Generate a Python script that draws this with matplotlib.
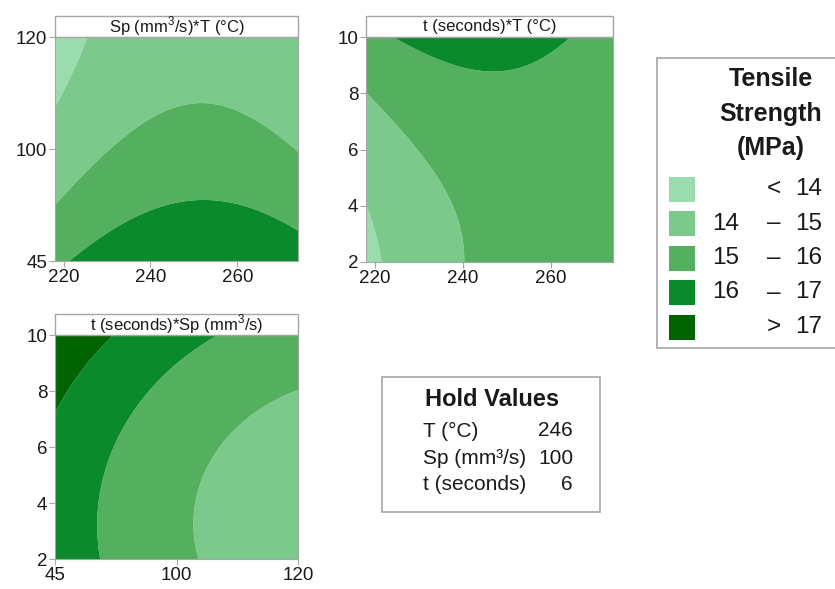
import numpy as np
import matplotlib.pyplot as plt
from matplotlib.patches import Rectangle

plt.rcParams['font.family'] = ['Liberation Sans', 'DejaVu Sans']
plt.rcParams['mathtext.fontset'] = 'custom'
plt.rcParams['mathtext.rm'] = 'Liberation Sans'

# contour classes
levels = [14, 15, 16, 17]
level_colors = ['#9bdcae', '#7cc98c', '#54b05f', '#0a8a2a', '#006400']
legend_labels = [('', '<', '14'), ('14', '–', '15'), ('15', '–', '16'),
                 ('16', '–', '17'), ('', '>', '17')]

# factor ranges
T_range = (218, 274)
Sp_range = (80, 120)
t_range = (2, 10)

# fitted quadratic surfaces in coded units, terms: const, x, y, x^2, y^2, x*y
# (third factor held at its centre value)
coef_Sp_T = [15.379, 0.304, -1.134, -0.711, 0.335, -0.032]
coef_t_T = [15.430, 0.329, 0.587, -0.694, 0.338, -0.416]
coef_t_Sp = [15.342, -1.089, 0.575, 0.353, 0.417, -0.012]

hold_names = ['T (°C)', 'Sp (mm³/s)', 't (seconds)']
hold_values = ['246', '100', '6']

fig = plt.figure(figsize=(8.35, 5.89), dpi=100)
W, H = 835, 589
frame_gray = '#a6a6a6'
ink = '#1a1a1a'


def surface(U, V, c):
    return c[0] + c[1] * U + c[2] * V + c[3] * U ** 2 + c[4] * V ** 2 + c[5] * U * V


def make_panel(px, title, xr, yr, coef, xticks, xlabels, yticks, ylabels):
    x0, y0, x1, y1 = px
    ax = fig.add_axes([x0 / W, 1 - y1 / H, (x1 - x0) / W, (y1 - y0) / H])
    xs = np.linspace(xr[0], xr[1], 300)
    ys = np.linspace(yr[0], yr[1], 300)
    X, Y = np.meshgrid(xs, ys)
    U = (X - (xr[0] + xr[1]) / 2) / ((xr[1] - xr[0]) / 2)
    V = (Y - (yr[0] + yr[1]) / 2) / ((yr[1] - yr[0]) / 2)
    Z = surface(U, V, coef)
    ax.contourf(X, Y, Z, levels=[-1e3] + levels + [1e3], colors=level_colors, antialiased=True)
    ax.set_xlim(xr)
    ax.set_ylim(yr)
    ax.set_xticks(xticks, xlabels)
    ax.set_yticks(yticks, ylabels)
    for s in ax.spines.values():
        s.set_color(frame_gray)
    ax.tick_params(color=frame_gray, length=4, labelsize=13.5, pad=1.5, labelcolor=ink)
    # title strip on top of the panel
    bar_h = 21 / (y1 - y0)
    ax.add_patch(Rectangle((0, 1), 1, bar_h, transform=ax.transAxes, clip_on=False,
                           facecolor='white', edgecolor=frame_gray, lw=1))
    ax.text(0.5, 1 + bar_h / 2, title, transform=ax.transAxes, ha='center', va='center',
            fontsize=12, color=ink)
    return ax


make_panel((55, 37, 298, 261), 'Sp (mm$^3$/s)*T (°C)', T_range, Sp_range, coef_Sp_T,
           [220, 240, 260], ['220', '240', '260'], [80, 100, 120], ['45', '100', '120'])
make_panel((366, 37, 613, 262), 't (seconds)*T (°C)', T_range, t_range, coef_t_T,
           [220, 240, 260], ['220', '240', '260'], [2, 4, 6, 8, 10], ['2', '4', '6', '8', '10'])
make_panel((55, 335, 298, 559), 't (seconds)*Sp (mm$^3$/s)', Sp_range, t_range, coef_t_Sp,
           [80, 100, 120], ['45', '100', '120'], [2, 4, 6, 8, 10], ['2', '4', '6', '8', '10'])

# overlay in pixel units for the two boxes
ov = fig.add_axes([0, 0, 1, 1])
ov.set_xlim(0, W)
ov.set_ylim(H, 0)
ov.axis('off')

# legend box
ov.add_patch(Rectangle((657, 58), 190, 290, facecolor='white', edgecolor=frame_gray, lw=1.2))
for i, line in enumerate(['Tensile', 'Strength', '(MPa)']):
    ov.text(771, 79 + i * 34.5, line, ha='center', va='center', fontsize=18, fontweight='bold',
            color=ink)
for i, (lo, dash, hi) in enumerate(legend_labels):
    yc = 189 + i * 34.5
    ov.add_patch(Rectangle((669, yc - 12.5), 26, 25, facecolor=level_colors[i], edgecolor='none'))
    if lo:
        ov.text(712, yc, lo, ha='left', va='center', fontsize=17.5, color=ink)
    ov.text(774, yc, dash, ha='center', va='center', fontsize=17.5, color=ink)
    ov.text(822, yc, hi, ha='right', va='center', fontsize=17.5, color=ink)

# hold values box
ov.add_patch(Rectangle((382, 377), 218, 135, facecolor='white', edgecolor=frame_gray, lw=1.2))
ov.text(492, 400, 'Hold Values', ha='center', va='center', fontsize=17, fontweight='bold',
        color=ink)
for i, (n, v) in enumerate(zip(hold_names, hold_values)):
    ov.text(423, 431 + i * 27, n, ha='left', va='center', fontsize=15, color=ink)
    ov.text(573, 431 + i * 27, v, ha='right', va='center', fontsize=15, color=ink)

fig.savefig('out.png', dpi=100)
